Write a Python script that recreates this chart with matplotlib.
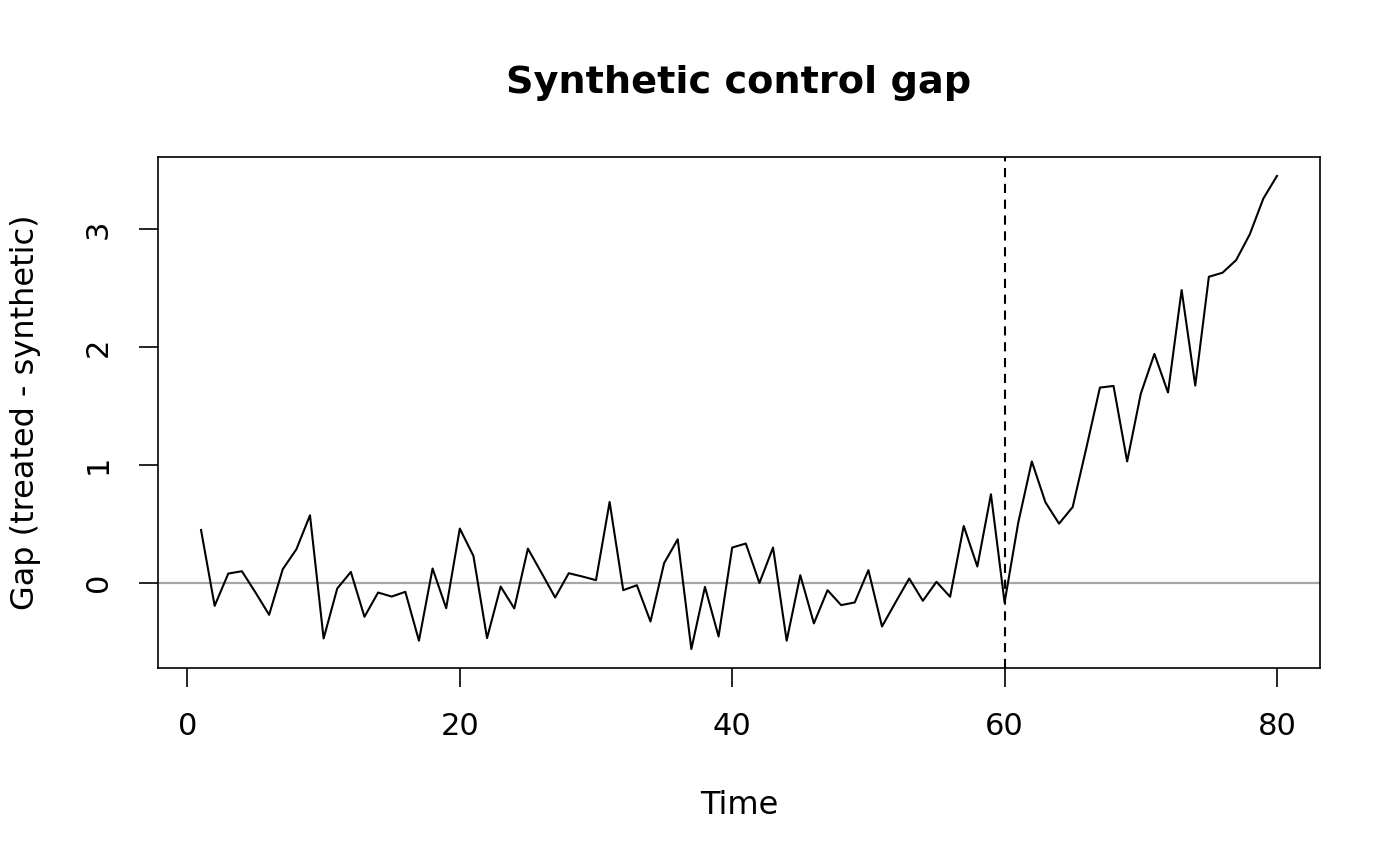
import numpy as np
import matplotlib
matplotlib.use("Agg")
import matplotlib.pyplot as plt

time = list(range(1, 81))
gap = [0.446, -0.198, 0.076, 0.096, -0.085, -0.274, 0.113, 0.282, 0.571, -0.475,
       -0.051, 0.090, -0.291, -0.085, -0.119, -0.079, -0.494, 0.119, -0.218, 0.458,
       0.226, -0.472, -0.034, -0.220, 0.288, 0.082, -0.127, 0.079, 0.051, 0.020,
       0.684, -0.065, -0.023, -0.331, 0.164, 0.367, -0.565, -0.037, -0.458, 0.297,
       0.331, -0.004, 0.297, -0.494, 0.062, -0.347, -0.065, -0.192, -0.169, 0.105,
       -0.373, -0.167, 0.034, -0.155, 0.006, -0.121, 0.480, 0.136, 0.749, -0.170,
       0.506, 1.028, 0.681, 0.500, 0.641, 1.141, 1.655, 1.669, 1.028, 1.602,
       1.941, 1.613, 2.483, 1.672, 2.596, 2.630, 2.737, 2.955, 3.260, 3.452]
treat_time = 60
x_ticks = [0, 20, 40, 60, 80]
y_ticks = [0, 1, 2, 3]
title = "Synthetic control gap"
xlab = "Time"
ylab = "Gap (treated - synthetic)"

W, H = 1400, 865
fig = plt.figure(figsize=(W / 100, H / 100), dpi=100)
ax = fig.add_axes([158 / W, 1 - 668 / H, (1320 - 158) / W, (668 - 157) / H])

ax.plot(time, gap, color="black", lw=1.5, zorder=3)
ax.axhline(0, color="#a6a6a6", lw=1.6, zorder=2)
ax.axvline(treat_time, color="black", lw=1.5, linestyle=(0, (4.4, 3.2)), zorder=2)

# R-style 4% axis extension
xr = max(time) - min(time)
ax.set_xlim(min(time) - 0.04 * xr, max(time) + 0.04 * xr)
yr = max(gap) - min(gap)
ax.set_ylim(min(gap) - 0.04 * yr, max(gap) + 0.04 * yr)

ax.set_xticks(x_ticks)
ax.set_yticks(y_ticks)
ax.set_xticklabels([str(v) for v in x_ticks])
ax.set_yticklabels([str(v) for v in y_ticks])
ax.tick_params(axis="both", direction="out", length=13.7, width=1.2,
               labelsize=22, color="black")
ax.tick_params(axis="x", pad=18)
ax.tick_params(axis="y", pad=19, labelrotation=90)
for lab in ax.get_yticklabels():
    lab.set_va("center")
    lab.set_ha("right")
for s in ax.spines.values():
    s.set_linewidth(1.2)
    s.set_color("black")

fig.text(739 / W, 1 - 93 / H, title, ha="center", va="baseline",
         fontsize=27.5, fontweight="bold")
fig.text(739 / W, 1 - 814 / H, xlab, ha="center", va="baseline", fontsize=23)
fig.text(26 / W, 1 - 412.5 / H, ylab, ha="center", va="center",
         rotation=90, fontsize=23)

fig.savefig("out.png", dpi=100)
